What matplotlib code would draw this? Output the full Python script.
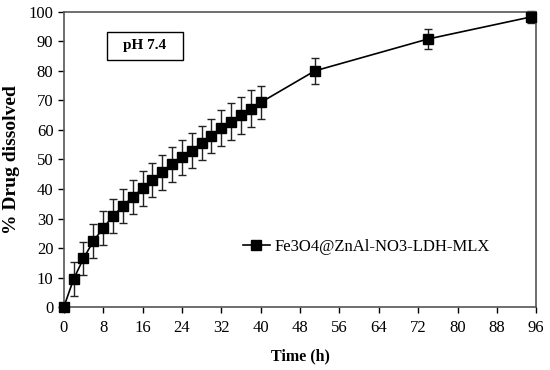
import matplotlib
matplotlib.use("Agg")
import matplotlib.pyplot as plt
from matplotlib.patches import Rectangle

time_h = [0, 2, 4, 6, 8, 10, 12, 14, 16, 18, 20, 22, 24, 26, 28, 30, 32, 34, 36, 38, 40, 51, 74, 95]
released = [0, 9.5, 16.5, 22.3, 26.8, 30.8, 34.2, 37.3, 40.2, 43.0, 45.6, 48.3, 50.7, 53.0, 55.5,
            58.0, 60.6, 62.8, 65.0, 67.2, 69.3, 80.0, 90.8, 98.3]
err = [0, 5.7, 5.7, 5.8, 5.8, 5.8, 5.8, 5.8, 5.8, 5.8, 5.8, 5.8, 5.8, 5.8, 5.8,
       5.8, 6.0, 6.2, 6.3, 6.3, 5.5, 4.5, 3.5, 2.0]
series_label = "Fe3O4@ZnAl-NO3-LDH-MLX"
x_ticks = list(range(0, 97, 8))
y_ticks = list(range(0, 101, 10))

plt.rcParams['font.family'] = ['Liberation Serif', 'DejaVu Serif']

fig = plt.figure(figsize=(5.5, 3.7), dpi=100)
ax = fig.add_axes([0.116, 0.170, 0.859, 0.798])

ax.errorbar(time_h, released, yerr=err, fmt='none', ecolor='#222222',
            elinewidth=1.0, capsize=3, capthick=1.0, clip_on=False, zorder=2)
ax.plot(time_h, released, color='black', marker='s', markersize=6.5,
        linewidth=1.2, label=series_label, clip_on=False, zorder=3)

ax.set_xlim(0, 96)
ax.set_ylim(0, 100)
ax.set_xticks(x_ticks)
ax.set_yticks(y_ticks)
ax.tick_params(direction='out', length=4, width=1, labelsize=12, colors='black')
ax.tick_params(axis='x', pad=5)
for s in ax.spines.values():
    s.set_color('#555555')
    s.set_linewidth(1.2)

ax.set_xlabel("Time (h)", fontsize=11.5, fontweight='bold', labelpad=9)
ax.set_ylabel("% Drug dissolved", fontsize=14, fontweight='bold', labelpad=6)

ax.add_patch(Rectangle((0.091, 0.838), 0.162, 0.094, transform=ax.transAxes,
                       facecolor='white', edgecolor='black', linewidth=1, zorder=4))
ax.text(0.172, 0.885, "pH 7.4", transform=ax.transAxes, fontsize=11, fontweight='bold',
        ha='center', va='center', zorder=5)

leg = ax.legend(loc='center left', bbox_to_anchor=(0.365, 0.205), frameon=False, fontsize=12,
                handlelength=1.6, handletextpad=0.3, borderaxespad=0)

fig.savefig("out.png", dpi=100)
